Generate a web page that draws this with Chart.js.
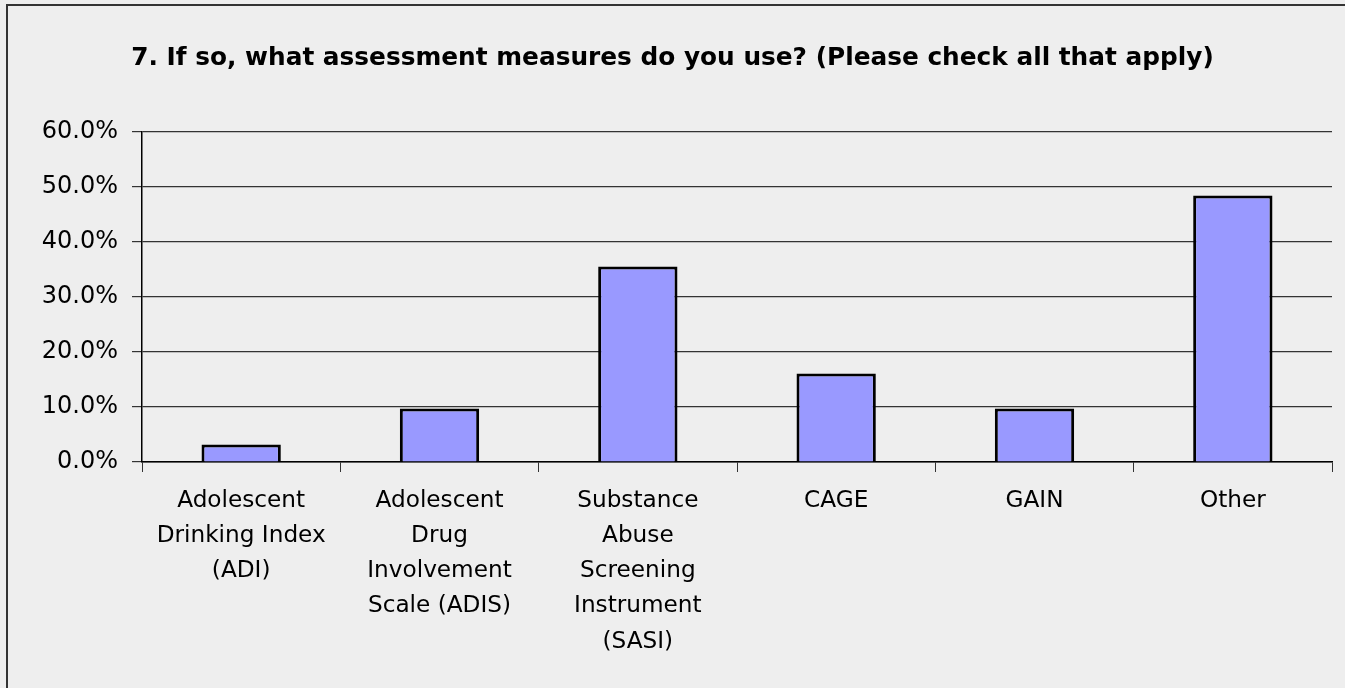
<!DOCTYPE html>
<html>
<head>
<meta charset="utf-8">
<script src="https://cdn.jsdelivr.net/npm/chart.js@4/dist/chart.umd.min.js"></script>
<style>
html,body{margin:0;padding:0;background:#eeeeee;}
#wrap{width:1345px;height:688px;position:relative;}
</style>
</head>
<body>
<div id="wrap"><canvas id="c" width="1345" height="688"></canvas></div>
<script>
const titleText = "7. If so, what assessment measures do you use? (Please check all that apply)";
const categories = [
  ["Adolescent", "Drinking Index", "(ADI)"],
  ["Adolescent", "Drug", "Involvement", "Scale (ADIS)"],
  ["Substance", "Abuse", "Screening", "Instrument", "(SASI)"],
  ["CAGE"],
  ["GAIN"],
  ["Other"]
];
const values = [3.2, 9.7, 35.5, 16.1, 9.7, 48.4];
const yTicks = [0, 10, 20, 30, 40, 50, 60];

const frame = {
  id: 'frame',
  beforeDraw(chart) {
    const ctx = chart.ctx;
    ctx.save();
    ctx.fillStyle = '#eeeeee';
    ctx.fillRect(0, 0, chart.width, chart.height);
    ctx.strokeStyle = '#333333';
    ctx.lineWidth = 2;
    ctx.beginPath();
    ctx.moveTo(7, chart.height);
    ctx.lineTo(7, 5);
    ctx.lineTo(chart.width, 5);
    ctx.stroke();
    ctx.restore();
  }
};

new Chart(document.getElementById('c'), {
  type: 'bar',
  data: {
    labels: categories,
    datasets: [{
      data: values,
      backgroundColor: '#9999ff',
      borderColor: '#000000',
      borderWidth: 3,
      barPercentage: 0.4,
      categoryPercentage: 1.0
    }]
  },
  options: {
    responsive: false,
    animation: false,
    layout: { padding: { left: 13, right: 13, top: 0, bottom: 0 } },
    plugins: {
      legend: { display: false },
      tooltip: { enabled: false },
      title: {
        display: true,
        text: titleText,
        color: '#000000',
        font: { family: 'DejaVu Sans', size: 24.8, weight: 'bold', lineHeight: 1.2 },
        padding: { top: 44, bottom: 58 }
      }
    },
    scales: {
      x: {
        offset: true,
        grid: { display: true, drawOnChartArea: false, offset: true, tickLength: 10, color: '#333333', tickColor: '#333333' },
        border: { display: true, color: '#000000', width: 1.5 },
        ticks: {
          color: '#000000',
          font: { family: 'DejaVu Sans', size: 23.2, lineHeight: 1.52 },
          padding: 11,
          maxRotation: 0,
          autoSkip: false
        },
        afterFit(s) { s.height = 226; }
      },
      y: {
        min: 0,
        max: 60,
        afterBuildTicks(s) { s.ticks = yTicks.map(v => ({ value: v })); },
        grid: { color: '#333333', tickLength: 10, lineWidth: 1.2 },
        border: { display: true, color: '#000000', width: 1.5 },
        ticks: {
          color: '#000000',
          font: { family: 'DejaVu Sans', size: 24 },
          padding: 14,
          callback: v => v.toFixed(1) + '%'
        },
        afterFit(s) { s.width = 129; }
      }
    }
  },
  plugins: [frame]
});
</script>
</body>
</html>
